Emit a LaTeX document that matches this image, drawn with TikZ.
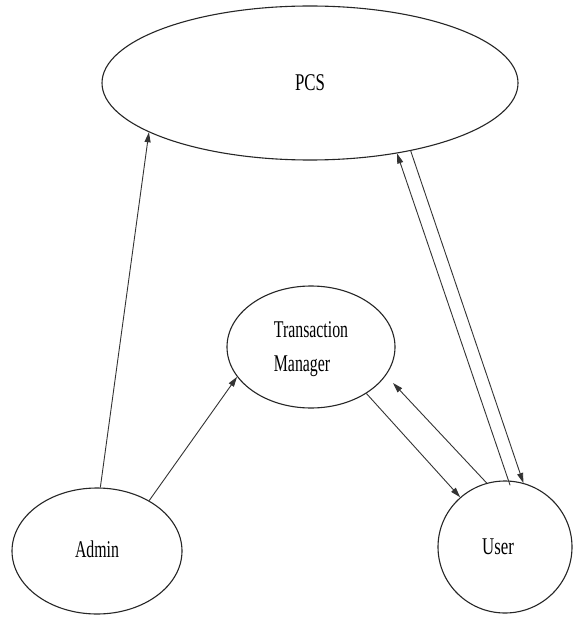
\documentclass[tikz,border=0pt]{standalone}
\usepackage{fontspec}
\setmainfont{Liberation Serif}
\usetikzlibrary{arrows.meta,shapes.geometric}
\begin{document}
\begin{tikzpicture}[x=1pt,y=-1pt,
  oval/.style={draw=black!85,line width=1.1pt,ellipse,inner sep=0pt,fill=white},
  conn/.style={draw=black!80,line width=0.9pt,-{Triangle[length=10pt,width=6pt]}},
  lbl/.style={font=\fontsize{24}{36}\selectfont}]
\useasboundingbox (0,0) rectangle (578,617);
\fill[white] (0,0) rectangle (578,617);
\node[oval,minimum width=416pt,minimum height=154pt,lbl] (pcs) at (310,83) {\raisebox{-3pt}{\scalebox{0.7}[1]{PCS}}};
\node[oval,minimum width=168pt,minimum height=122pt,lbl] (tm) at (311,347)
  {\raisebox{-4pt}{\scalebox{0.66}[1]{\begin{tabular}{@{}l@{}}Transaction\\[-2pt]Manager\end{tabular}}}};
\node[oval,minimum width=170pt,minimum height=126pt,lbl] (admin) at (97,551) {\raisebox{3pt}{\scalebox{0.66}[1]{Admin}}};
\node[oval,minimum width=134pt,minimum height=132pt,lbl] (user) at (505,547) {\hspace*{-14pt}\scalebox{0.7}[1]{User}};
\coordinate (tmin) at (393,383);
\draw[conn] (admin.87) -- (pcs.197);
\draw[conn] (admin.44) -- (tm.202);
\draw[conn] (tm.-40) -- (user.132);
\draw[conn] (user.106) -- (tmin);
\draw[conn,shorten <=-5pt] (user.87) -- (pcs.-39);
\draw[conn] (pcs.-34) -- (user.74);
\end{tikzpicture}
\end{document}
